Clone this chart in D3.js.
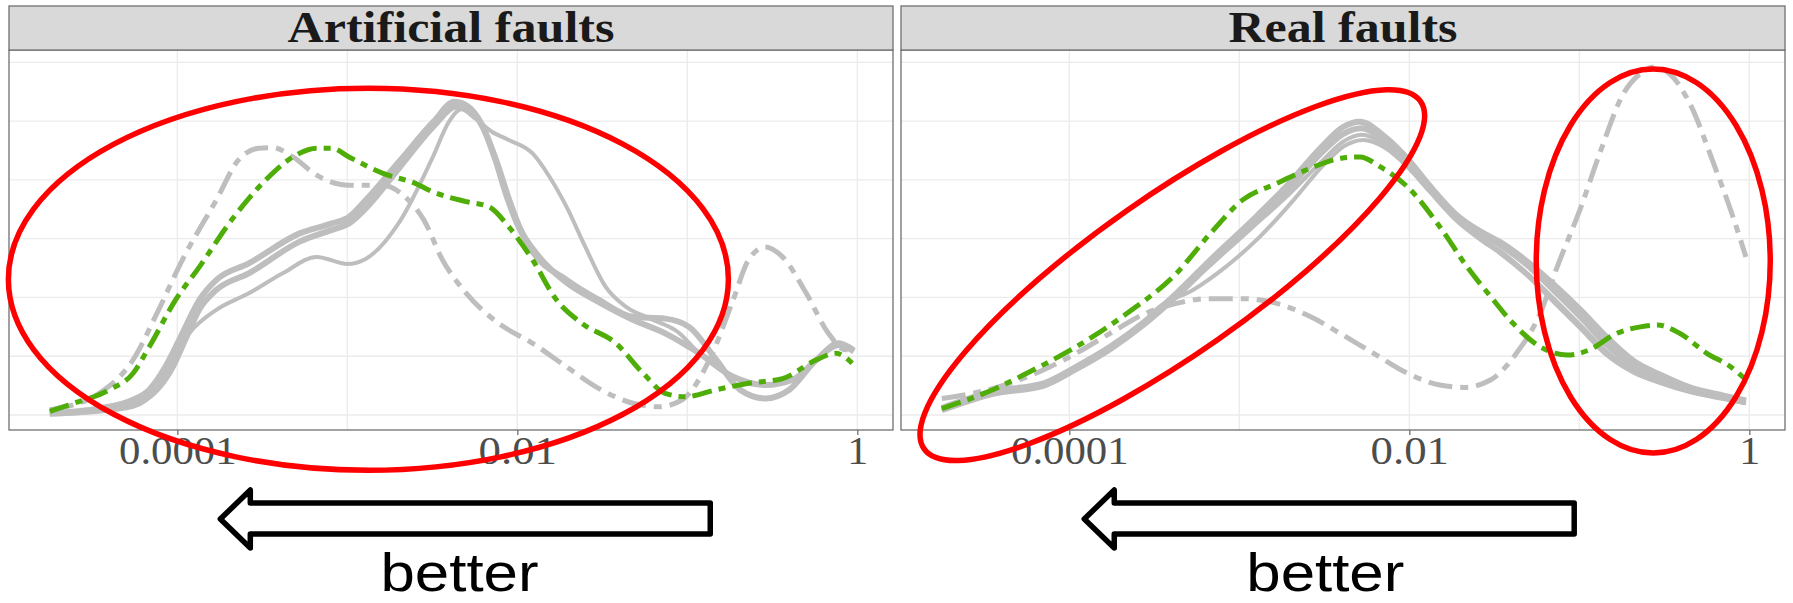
<!DOCTYPE html>
<html>
<head>
<meta charset="utf-8">
<script src="https://cdn.jsdelivr.net/npm/d3@7"></script>
<style>
    body { margin: 0; background: #fff; }
    svg { display: block; }
</style>
</head>
<body>
<svg id="densityChart" width="1793" height="603"></svg>
<script>
// values are [log10(x), density]
const panelTitles = ["Artificial faults", "Real faults"];
const tickValues = [1e-4, 1e-2, 1];
const tickLabels = ["0.0001", "0.01", "1"];
const gridX = [1e-4, 1e-3, 1e-2, 1e-1, 1];
const gridY = [0, 1, 2, 3, 4, 5, 6];

// --- Artificial faults
const artSolidA = [[-4.75,0.03],[-4.46,0.11],[-4.26,0.26],[-4.165,0.43],[-4.07,0.82],[-3.97,1.39],[-3.87,1.96],[-3.77,2.30],[-3.58,2.58],[-3.28,3.09],[-3.09,3.26],[-2.99,3.37],[-2.89,3.66],[-2.69,4.33],[-2.49,5.0],[-2.37,5.33],[-2.30,5.27],[-2.21,4.95],[-2.13,4.35],[-2.06,3.7],[-2.0,3.25],[-1.91,2.78],[-1.71,2.30],[-1.52,1.96],[-1.32,1.67],[-1.13,1.64],[-0.99,1.50],[-0.83,0.94],[-0.69,0.43],[-0.54,0.28],[-0.40,0.43],[-0.24,0.94],[-0.11,1.19],[-0.02,1.08]];
const artSolidB = [[-4.75,0.02],[-4.46,0.08],[-4.26,0.18],[-4.13,0.40],[-4.03,0.80],[-3.95,1.30],[-3.87,1.80],[-3.77,2.13],[-3.58,2.41],[-3.28,2.95],[-3.09,3.15],[-2.99,3.26],[-2.89,3.52],[-2.69,4.22],[-2.49,4.92],[-2.36,5.25],[-2.29,5.2],[-2.2,4.88],[-2.12,4.3],[-2.05,3.68],[-1.98,3.15],[-1.88,2.72],[-1.71,2.25],[-1.52,1.92],[-1.32,1.62],[-1.13,1.39],[-0.93,1.05],[-0.73,0.65],[-0.54,0.51],[-0.38,0.60],[-0.24,0.94],[-0.11,1.22],[-0.02,1.10]];
const artSolidC = [[-4.75,0.02],[-4.46,0.06],[-4.26,0.14],[-4.125,0.43],[-4.03,0.94],[-3.93,1.39],[-3.77,1.79],[-3.58,2.07],[-3.38,2.41],[-3.18,2.69],[-3.0,2.57],[-2.89,2.66],[-2.69,3.3],[-2.5,4.37],[-2.4,5.0],[-2.33,5.2],[-2.25,5.05],[-2.15,4.82],[-2.05,4.68],[-1.91,4.45],[-1.81,4.05],[-1.71,3.54],[-1.60,2.86],[-1.48,2.18],[-1.36,1.84],[-1.22,1.64],[-1.05,1.40],[-0.93,1.05],[-0.73,0.65],[-0.54,0.51],[-0.38,0.60],[-0.24,0.94],[-0.11,1.22],[-0.02,1.10]];
const artDotDash = [[-4.75,0.09],[-4.46,0.37],[-4.26,0.94],[-4.11,1.79],[-3.97,2.64],[-3.77,3.66],[-3.64,4.34],[-3.52,4.54],[-3.44,4.55],[-3.32,4.39],[-3.18,4.08],[-2.99,3.91],[-2.79,3.91],[-2.66,3.71],[-2.55,3.32],[-2.44,2.64],[-2.30,2.07],[-2.11,1.56],[-1.91,1.22],[-1.71,0.82],[-1.52,0.45],[-1.32,0.20],[-1.17,0.14],[-1.03,0.26],[-0.87,0.94],[-0.73,1.96],[-0.64,2.64],[-0.54,2.86],[-0.44,2.69],[-0.30,2.07],[-0.17,1.39],[-0.07,1.11],[-0.02,1.11]];
const artGreen = [[-4.75,0.06],[-4.64,0.17],[-4.4,0.43],[-4.26,0.71],[-4.165,1.16],[-4.01,1.96],[-3.87,2.52],[-3.68,3.32],[-3.48,4.0],[-3.32,4.39],[-3.18,4.54],[-3.09,4.54],[-2.99,4.39],[-2.79,4.11],[-2.6,3.94],[-2.5,3.8],[-2.3,3.63],[-2.165,3.54],[-2.05,3.20],[-1.91,2.64],[-1.77,1.96],[-1.62,1.56],[-1.42,1.22],[-1.26,0.71],[-1.13,0.37],[-1.01,0.31],[-0.83,0.43],[-0.64,0.54],[-0.44,0.62],[-0.24,0.94],[-0.125,1.05],[-0.03,0.88]];

// --- Real faults
const realSolidA = [[-4.75,0.12],[-4.45,0.40],[-4.15,0.54],[-3.96,0.82],[-3.76,1.16],[-3.57,1.56],[-3.37,2.07],[-3.17,2.64],[-2.92,3.32],[-2.72,3.9],[-2.52,4.55],[-2.39,4.9],[-2.29,4.99],[-2.15,4.75],[-2.01,4.36],[-1.88,3.9],[-1.72,3.4],[-1.58,3.12],[-1.47,2.95],[-1.31,2.62],[-1.15,2.22],[-0.99,1.78],[-0.84,1.33],[-0.68,0.92],[-0.52,0.68],[-0.35,0.47],[-0.15,0.33],[-0.02,0.25]];
const realSolidB = [[-4.75,0.08],[-4.45,0.36],[-4.15,0.50],[-3.96,0.78],[-3.76,1.12],[-3.57,1.52],[-3.37,2.02],[-3.17,2.58],[-2.92,3.26],[-2.72,3.82],[-2.52,4.45],[-2.39,4.78],[-2.28,4.88],[-2.15,4.68],[-2.01,4.3],[-1.88,3.86],[-1.72,3.36],[-1.58,3.08],[-1.47,2.9],[-1.31,2.56],[-1.15,2.12],[-0.99,1.66],[-0.84,1.2],[-0.68,0.84],[-0.52,0.62],[-0.35,0.44],[-0.15,0.30],[-0.02,0.22]];
const realSolidC = [[-4.75,0.10],[-4.45,0.38],[-4.15,0.52],[-3.96,0.80],[-3.76,1.14],[-3.57,1.54],[-3.37,2.04],[-3.17,2.55],[-2.92,3.2],[-2.72,3.72],[-2.52,4.3],[-2.39,4.65],[-2.28,4.77],[-2.15,4.62],[-2.01,4.26],[-1.88,3.84],[-1.72,3.32],[-1.58,3.0],[-1.47,2.8],[-1.31,2.42],[-1.15,1.98],[-0.99,1.52],[-0.84,1.08],[-0.68,0.76],[-0.52,0.56],[-0.35,0.40],[-0.15,0.28],[-0.02,0.20]];
const realSolidD = [[-4.75,0.10],[-4.45,0.38],[-4.15,0.52],[-3.96,0.80],[-3.76,1.14],[-3.57,1.56],[-3.47,1.84],[-3.27,2.13],[-3.08,2.52],[-2.88,3.03],[-2.68,3.66],[-2.49,4.3],[-2.38,4.58],[-2.27,4.68],[-2.15,4.56],[-2.01,4.22],[-1.88,3.8],[-1.72,3.3],[-1.58,2.98],[-1.47,2.76],[-1.31,2.38],[-1.15,1.92],[-0.99,1.46],[-0.84,1.02],[-0.68,0.72],[-0.52,0.54],[-0.35,0.39],[-0.15,0.27],[-0.02,0.20]];
const realDotDash = [[-4.75,0.28],[-4.45,0.45],[-4.15,0.77],[-3.96,1.05],[-3.76,1.39],[-3.55,1.73],[-3.37,1.90],[-3.17,1.98],[-2.98,1.98],[-2.78,1.90],[-2.58,1.67],[-2.39,1.36],[-2.21,1.05],[-2.01,0.71],[-1.82,0.51],[-1.68,0.47],[-1.52,0.60],[-1.37,1.05],[-1.23,1.73],[-1.13,2.52],[-0.99,3.54],[-0.88,4.45],[-0.74,5.47],[-0.64,5.81],[-0.56,5.92],[-0.47,5.81],[-0.35,5.30],[-0.21,4.28],[-0.09,3.32],[-0.02,2.69]];
const realGreen = [[-4.75,0.11],[-4.45,0.43],[-4.25,0.71],[-3.96,1.16],[-3.66,1.73],[-3.37,2.41],[-3.17,3.09],[-2.98,3.66],[-2.78,3.94],[-2.58,4.2],[-2.4,4.37],[-2.29,4.39],[-2.17,4.22],[-2.01,3.88],[-1.82,3.20],[-1.66,2.52],[-1.52,2.01],[-1.39,1.56],[-1.23,1.16],[-1.07,1.02],[-0.94,1.11],[-0.78,1.39],[-0.64,1.50],[-0.54,1.53],[-0.41,1.39],[-0.25,1.05],[-0.11,0.82],[-0.02,0.60]];

// red highlight ellipses: centre in data units, radii in px
const artEllipses = [{cx: -2.876, cy: 2.31, rx: 360, ry: 191, rot: 0}];
const realEllipses = [{cx: -3.394, cy: 2.38, rx: 303, ry: 79, rot: -35},
                      {cx: -0.565, cy: 2.62, rx: 117, ry: 192, rot: 0}];
// "better" arrows: tip and tail in log10(x)
const artArrow = {tip: -3.747, tail: -0.865, label: -2.34};
const realArrow = {tip: -3.912, tail: -1.03, label: -2.494};

let panels = [
    {title: panelTitles[0], left: 9, titleLen: 327,
     solids: [[artSolidA, 6], [artSolidB, 6], [artSolidC, 4]],
     dotdash: artDotDash, green: artGreen, ellipses: artEllipses, arrow: artArrow},
    {title: panelTitles[1], left: 901, titleLen: 229,
     solids: [[realSolidA, 6], [realSolidB, 6], [realSolidC, 4], [realSolidD, 4]],
     dotdash: realDotDash, green: realGreen, ellipses: realEllipses, arrow: realArrow}
];

let svg = d3.select("svg#densityChart"),
    width = 884,
    height = 380,
    marginTop = 50,
    stripH = 44;

let x = d3.scaleLog()
    .domain([Math.pow(10, -4.99), Math.pow(10, 0.21)])
    .range([0, width]);
let y = d3.scaleLinear()
    .domain([-0.255, 6.21])
    .range([height, 0]);
let line = d3.line()
    .x(function(d) { return x(Math.pow(10, d[0])); })
    .y(function(d) { return y(d[1]); })
    .curve(d3.curveMonotoneX);

const grey = "#bebebe", green = "#4fad08", border = "#707070";

panels.forEach(function(p) {
    let g = svg.append("g").attr("transform", "translate(" + p.left + "," + marginTop + ")");

    g.append("rect").attr("width", width).attr("height", height).attr("fill", "#fff");

    // grid
    g.selectAll(".gy").data(gridY).enter().append("line")
        .attr("x1", 0).attr("x2", width)
        .attr("y1", function(d) { return y(d); }).attr("y2", function(d) { return y(d); })
        .attr("stroke", "#ebebeb").attr("stroke-width", 1.3);
    g.selectAll(".gx").data(gridX).enter().append("line")
        .attr("y1", 0).attr("y2", height)
        .attr("x1", function(d) { return x(d); }).attr("x2", function(d) { return x(d); })
        .attr("stroke", "#ebebeb").attr("stroke-width", 1.3);

    // density curves
    p.solids.forEach(function(s) {
        g.append("path").datum(s[0])
            .attr("d", line).attr("fill", "none")
            .attr("stroke", grey).attr("stroke-width", s[1]);
    });
    g.append("path").datum(p.dotdash)
        .attr("d", line).attr("fill", "none")
        .attr("stroke", grey).attr("stroke-width", 5)
        .attr("stroke-dasharray", "24,8,8,8");
    g.append("path").datum(p.green)
        .attr("d", line).attr("fill", "none")
        .attr("stroke", green).attr("stroke-width", 5)
        .attr("stroke-dasharray", "20,7,7,7");

    g.append("rect").attr("width", width).attr("height", height)
        .attr("fill", "none").attr("stroke", border).attr("stroke-width", 1.3);

    // strip
    g.append("rect").attr("y", -stripH).attr("width", width).attr("height", stripH)
        .attr("fill", "#d9d9d9").attr("stroke", border).attr("stroke-width", 1.3);
    g.append("text")
        .attr("x", width / 2).attr("y", -7.7)
        .attr("text-anchor", "middle")
        .attr("font-family", "Liberation Serif, serif")
        .attr("font-weight", "bold").attr("font-size", 45)
        .attr("textLength", p.titleLen).attr("lengthAdjust", "spacingAndGlyphs")
        .attr("fill", "#1a1a1a")
        .text(p.title);

    // x axis
    let ax = g.append("g")
        .attr("transform", "translate(0," + height + ")")
        .call(d3.axisBottom(x).tickValues(tickValues)
            .tickFormat(function(d, i) { return tickLabels[i]; })
            .tickSize(5));
    ax.select(".domain").remove();
    ax.selectAll("line").attr("stroke", border).attr("stroke-width", 1.3);
    ax.selectAll("text")
        .attr("y", 34).attr("dy", null)
        .attr("font-family", "Liberation Serif, serif")
        .attr("font-size", 40)
        .attr("fill", "#4d4d4d")
        .attr("textLength", function(d, i) { return tickLabels[i].length === 1 ? 21 : (tickLabels[i].length * 19.6); })
        .attr("lengthAdjust", "spacingAndGlyphs");

    // arrow + "better"
    let tx = x(Math.pow(10, p.arrow.tip)), ex = x(Math.pow(10, p.arrow.tail)), hx = tx + 30;
    let ay = height + 89;
    g.append("path")
        .attr("d", "M" + tx + "," + ay + "L" + hx + "," + (ay - 29) + "V" + (ay - 16) +
            "H" + ex + "V" + (ay + 15) + "H" + hx + "V" + (ay + 29) + "Z")
        .attr("fill", "#fff").attr("stroke", "#000")
        .attr("stroke-width", 5.5).attr("stroke-linejoin", "round");
    g.append("text")
        .attr("x", x(Math.pow(10, p.arrow.label))).attr("y", height + 161)
        .attr("text-anchor", "middle")
        .attr("font-family", "Liberation Sans, Arial, sans-serif")
        .attr("font-size", 54)
        .attr("textLength", 158).attr("lengthAdjust", "spacingAndGlyphs")
        .attr("fill", "#000")
        .text("better");

    p.g = g;
});

// red ellipses on top of everything
panels.forEach(function(p) {
    p.g.selectAll(".hl").data(p.ellipses).enter().append("ellipse")
        .attr("transform", function(d) {
            return "translate(" + x(Math.pow(10, d.cx)) + "," + y(d.cy) + ") rotate(" + d.rot + ")";
        })
        .attr("rx", function(d) { return d.rx; })
        .attr("ry", function(d) { return d.ry; })
        .attr("fill", "none").attr("stroke", "#ff0000").attr("stroke-width", 5.5);
});
</script>
</body>
</html>
